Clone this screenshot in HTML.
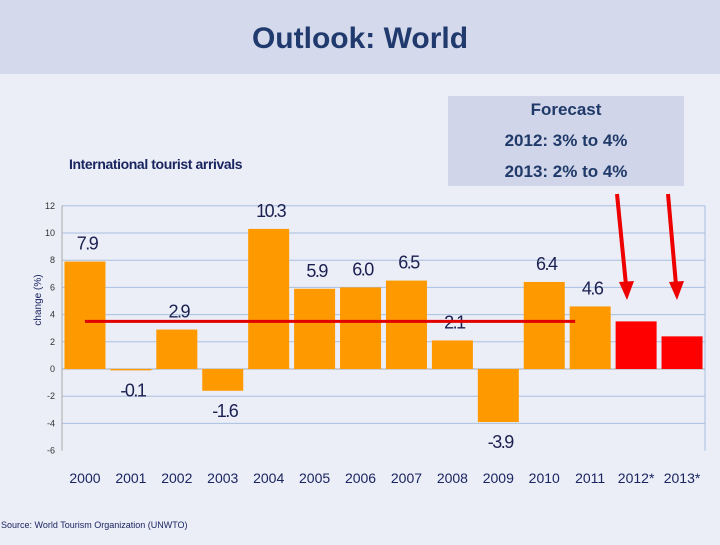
<!DOCTYPE html>
<html><head><meta charset="utf-8"><style>
body{margin:0;width:720px;height:540px;overflow:hidden;background:#ebedf7;font-family:"Liberation Sans",sans-serif;}
</style></head><body>
<svg width="720" height="540" xmlns="http://www.w3.org/2000/svg">
<rect x="0" y="0" width="720" height="74" fill="#d5d9ec"/>
<text x="360" y="48" text-anchor="middle" font-size="30" font-weight="bold" fill="#203a6e">Outlook: World</text>
<rect x="448" y="96" width="236" height="90" fill="#d1d5e9"/>
<g font-size="17" font-weight="bold" fill="#1f3a68" text-anchor="middle">
<text x="566" y="115">Forecast</text>
<text x="566" y="146">2012: 3% to 4%</text>
<text x="566" y="177">2013: 2% to 4%</text>
</g>
<text x="69" y="169" font-size="14" font-weight="bold" fill="#1a2560" letter-spacing="-0.4">International tourist arrivals</text>
<g id="grid"></g><g id="bars"></g><g id="labels"></g>
<text transform="translate(41,300) rotate(-90)" text-anchor="middle" font-size="10" fill="#1a2560">change (%)</text>
<text x="1" y="528" font-size="9" fill="#1a2560">Source: World Tourism Organization (UNWTO)</text>
<g stroke="#ee0000" stroke-width="4" fill="#ee0000">
<line x1="617" y1="194" x2="626" y2="285"/><polygon points="619,282 634,281 627,300" stroke="none"/>
<line x1="668" y1="194" x2="676" y2="285"/><polygon points="669,282 684,281 677,300" stroke="none"/>
</g>
</svg>
<script>
const categories=["2000","2001","2002","2003","2004","2005","2006","2007","2008","2009","2010","2011","2012*","2013*"];
const values=[7.9,-0.1,2.9,-1.6,10.3,5.9,6.0,6.5,2.1,-3.9,6.4,4.6,3.5,2.4];
const valueLabels=["7.9","-0.1","2.9","-1.6","10.3","5.9","6.0","6.5","2.1","-3.9","6.4","4.6","",""];
const forecast=[false,false,false,false,false,false,false,false,false,false,false,false,true,true];
const yTicks=[12,10,8,6,4,2,0,-2,-4,-6];
const averageLine=3.5;
const NS="http://www.w3.org/2000/svg";
const x0=62,x1=705,n=categories.length,cw=(x1-x0)/n;
const y=v=>369-v*13.6;
const xc=i=>x0+cw*(i+0.5);
function mk(t,a,p){const e=document.createElementNS(NS,t);for(const k in a)e.setAttribute(k,a[k]);p.appendChild(e);return e;}
const g=document.getElementById('grid'),b=document.getElementById('bars'),l=document.getElementById('labels');
yTicks.forEach(t=>{
 if(t!==0&&t!==-6){const ln=mk('line',{x1:x0,x2:x1,y1:y(t),y2:y(t),stroke:'#a9c0e0','stroke-width':1},g);
 
 }
 const tx=mk('text',{x:55,y:y(t)+3,'text-anchor':'end','font-size':9,fill:'#333'},g);tx.textContent=t;
 
 
});
mk('line',{x1:x1,x2:x1,y1:y(12),y2:y(-6),stroke:'#a9c0e0'},g);
mk('line',{x1:x0,x2:x0,y1:y(12),y2:y(-6),stroke:'#aaa'},g);
mk('line',{x1:x0,x2:x1,y1:y(0),y2:y(0),stroke:'#aaa'},g);
values.forEach((v,i)=>{
 const top=Math.min(y(v),y(0)),h=Math.max(Math.abs(y(v)-y(0)),1);
 const r=mk('rect',{x:xc(i)-20.5,y:top,width:41,height:h,fill:forecast[i]?'#ff0000':'#ff9900'},b);
 
 
 if(valueLabels[i]){const t=mk('text',{x:xc(i)+2,y:v>=0?y(v)-12:y(v)+26,'text-anchor':'middle','font-size':18,fill:'#1a2050','letter-spacing':-1.5},l);
 t.textContent=valueLabels[i];
 
 }
 const c=mk('text',{x:xc(i),y:483,'text-anchor':'middle','font-size':14,fill:'#1a2560'},l);c.textContent=categories[i];
 
 
});
const al=mk('line',{x1:xc(0),x2:xc(11)-15,y1:y(averageLine),y2:y(averageLine),stroke:'#e00000','stroke-width':3},l);


</script>
</body></html>
